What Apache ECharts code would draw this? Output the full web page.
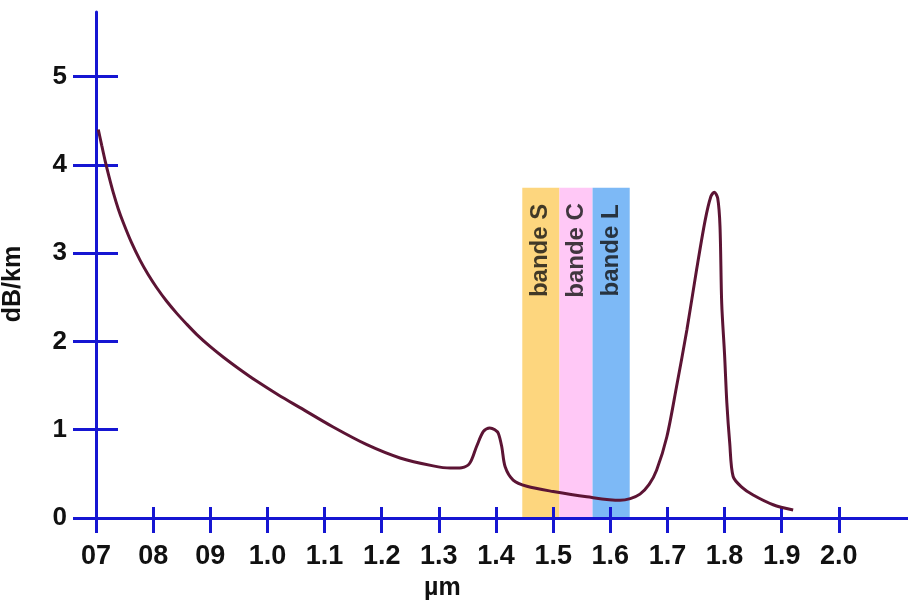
<!DOCTYPE html>
<html>
<head>
<meta charset="utf-8">
<script src="https://cdn.jsdelivr.net/npm/echarts@6/dist/echarts.min.js"></script>
<style>
html,body{margin:0;padding:0;background:#fff;}
#chart{width:908px;height:602px;}
</style>
</head>
<body>
<div id="chart"></div>
<script>
// ---- data ----
var curveX = [0.704,0.710,0.716,0.723,0.730,0.739,0.748,0.762,0.777,0.791,0.806,0.823,0.841,0.858,0.876,0.900,0.923,0.950,0.981,1.020,1.057,1.115,1.174,1.232,1.290,1.320,1.340,1.354,1.366,1.378,1.389,1.398,1.404,1.410,1.416,1.430,1.454,1.500,1.559,1.617,1.635,1.652,1.668,1.681,1.699,1.716,1.734,1.751,1.766,1.776,1.782,1.788,1.792,1.795,1.800,1.804,1.809,1.815,1.830,1.850,1.885,1.920];
var curveY = [4.40,4.22,4.045,3.86,3.69,3.50,3.34,3.12,2.92,2.76,2.61,2.46,2.32,2.20,2.08,1.94,1.82,1.69,1.55,1.39,1.25,1.03,0.83,0.68,0.59,0.565,0.57,0.62,0.81,0.98,1.02,1.00,0.96,0.81,0.58,0.43,0.36,0.30,0.24,0.20,0.22,0.27,0.38,0.54,0.92,1.49,2.13,2.81,3.37,3.64,3.69,3.62,3.30,2.43,1.85,1.30,0.85,0.47,0.35,0.26,0.15,0.09];
var xTickValues = [0.7,0.8,0.9,1.0,1.1,1.2,1.3,1.4,1.5,1.6,1.7,1.8,1.9,2.0];
var xTickLabels = ['07','08','09','1.0','1.1','1.2','1.3','1.4','1.5','1.6','1.7','1.8','1.9','2.0'];
var yTickValues = [0,1,2,3,4,5];
var yTickLabels = ['0','1','2','3','4','5'];
var bandNames = ['bande S','bande C','bande L'];
var bandStart = [1.446,1.511,1.569];
var bandEnd = [1.511,1.569,1.634];
var bandTop = 3.74;
var bandLabelY = 3.03;
var xMin = 0.7, xMax = 2.121, yMin = 0, yMax = 5.73;
var xName = 'µm', yName = 'dB/km';

// ---- styles ----
var AXIS = '#1616d2';
var TEXT = '#111111';
var FONT = '"Liberation Sans", Arial, sans-serif';
var bandColors = ['#fdd67e','#ffc8f6','#7db9f6'];

var lineData = curveX.map(function(x,i){return [x, curveY[i]];});
var bandAreas = bandNames.map(function(n,i){
  return [{xAxis: bandStart[i], yAxis: 0, itemStyle:{color: bandColors[i], opacity:1}},
          {xAxis: bandEnd[i], yAxis: bandTop}];
});
var bandLabels = bandNames.map(function(n,i){
  return {name: n, value: [(bandStart[i]+bandEnd[i])/2, bandLabelY]};
});

function nearestLabel(vals, labels, v){
  var best=0, d=1e9;
  for (var i=0;i<vals.length;i++){ var dd=Math.abs(vals[i]-v); if(dd<d){d=dd;best=i;} }
  return labels[best];
}
function xFmt(v){ return nearestLabel(xTickValues, xTickLabels, v); }
function yFmt(v){ return nearestLabel(yTickValues, yTickLabels, v); }

var chart = echarts.init(document.getElementById('chart'), null, {renderer:'canvas'});
var baseX = {type:'value', min:xMin, max:xMax, position:'bottom', z:3, splitLine:{show:false}};
var baseY = {type:'value', min:yMin, max:yMax, position:'left', z:3, splitLine:{show:false}};

chart.setOption({
  animation:false,
  backgroundColor:'#fff',
  grid:{left:96, right:0, top:12, bottom:84, containLabel:false},
  xAxis:[
    Object.assign({}, baseX, {
      axisLine:{show:true, lineStyle:{color:AXIS, width:3}},
      axisTick:{show:true, inside:false, length:15, lineStyle:{color:AXIS, width:3}, customValues:xTickValues},
      axisLabel:{show:true, margin:25, fontSize:27, fontWeight:'bold', color:TEXT, fontFamily:FONT,
        customValues:xTickValues, formatter:xFmt}
    }),
    Object.assign({}, baseX, {
      axisLine:{show:false},
      axisTick:{show:true, inside:true, length:11, lineStyle:{color:AXIS, width:3}, customValues:xTickValues},
      axisLabel:{show:false}
    })
  ],
  yAxis:[
    Object.assign({}, baseY, {
      axisLine:{show:true, lineStyle:{color:AXIS, width:3}},
      axisTick:{show:true, inside:false, length:23, lineStyle:{color:AXIS, width:3}, customValues:yTickValues},
      axisLabel:{show:true, margin:29, fontSize:26, fontWeight:'bold', color:TEXT, fontFamily:FONT,
        customValues:yTickValues, formatter:yFmt}
    }),
    Object.assign({}, baseY, {
      axisLine:{show:false},
      axisTick:{show:true, inside:true, length:22, lineStyle:{color:AXIS, width:3}, customValues:yTickValues},
      axisLabel:{show:false}
    })
  ],
  graphic:[
    {type:'text', left:424, top:576, z:10,
      style:{text:xName, fill:TEXT, font:'bold 25px "Liberation Sans", Arial, sans-serif'}},
    {type:'text', x:13, y:284, rotation:Math.PI/2, z:10,
      style:{text:yName, fill:TEXT, font:'bold 25px "Liberation Sans", Arial, sans-serif', align:'center', verticalAlign:'middle'}}
  ],
  series:[
    {
      type:'line', xAxisIndex:0, yAxisIndex:0, data:lineData, z:5,
      showSymbol:false, symbol:'none', smooth:0.3,
      lineStyle:{color:'#5c1434', width:3},
      markArea:{silent:true, z:1, data:bandAreas}
    },
    {
      type:'scatter', xAxisIndex:0, yAxisIndex:0, data:bandLabels, z:6,
      symbolSize:0, silent:true,
      label:{show:true, position:'inside', rotate:90, formatter:'{b}', fontSize:24, fontWeight:'bold',
        color:TEXT, fontFamily:FONT}
    }
  ]
});
</script>
</body>
</html>
